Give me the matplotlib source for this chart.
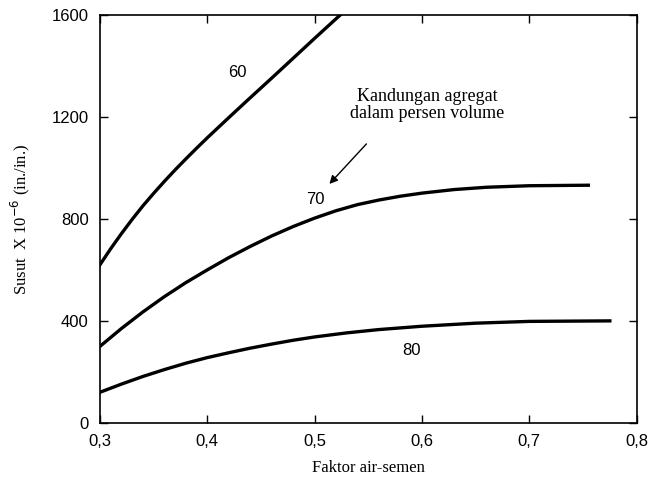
import matplotlib.pyplot as plt
from matplotlib.ticker import FuncFormatter

# ── Data ───────────────────────────────────────────────────────────────────────
x60 = [0.30, 0.31, 0.32, 0.33, 0.34, 0.35, 0.36, 0.37, 0.38, 0.39, 0.40,
       0.42, 0.44, 0.46, 0.48, 0.50, 0.52, 0.524]
y60 = [620, 683, 742, 798, 851, 900, 947, 992, 1035, 1077, 1118,
       1197, 1275, 1352, 1430, 1508, 1585, 1600]

x70 = [0.30, 0.32, 0.34, 0.36, 0.38, 0.40, 0.42, 0.44, 0.46, 0.48, 0.50,
       0.52, 0.54, 0.56, 0.58, 0.60, 0.63, 0.66, 0.70, 0.755]
y70 = [300, 370, 435, 495, 550, 600, 648, 692, 733, 770, 803,
       832, 856, 874, 889, 901, 915, 924, 930, 932]

x80 = [0.30, 0.32, 0.34, 0.36, 0.38, 0.40, 0.42, 0.44, 0.46, 0.48, 0.50,
       0.53, 0.56, 0.60, 0.65, 0.70, 0.775]
y80 = [120, 152, 182, 209, 234, 256, 275, 293, 309, 324, 337,
       353, 366, 379, 391, 398, 400]

xticks = [0.3, 0.4, 0.5, 0.6, 0.7, 0.8]
yticks = [0, 400, 800, 1200, 1600]

SERIF = "Liberation Serif"
SANS  = "Liberation Sans"

fig = plt.figure(figsize=(6.49, 4.80), dpi=100)
ax = fig.add_axes([0.154, 0.119, 0.827, 0.850])

for xs, ys in [(x60, y60), (x70, y70), (x80, y80)]:
    ax.plot(xs, ys, color="black", lw=2.4, solid_joinstyle="round")

ax.set_xlim(0.3, 0.8)
ax.set_ylim(0, 1600)
ax.set_xticks(xticks)
ax.set_yticks(yticks)
ax.xaxis.set_major_formatter(FuncFormatter(lambda v, p: f"{v:.1f}".replace(".", ",")))
ax.tick_params(direction="in", length=6, width=1, top=True, right=True,
               labelsize=12, pad=8)
for lbl in ax.get_xticklabels() + ax.get_yticklabels():
    lbl.set_family(SANS)
for s in ax.spines.values():
    s.set_linewidth(1.2)

# curve labels
ax.text(0.428, 1373, "60", fontsize=12, family=SANS, ha="center", va="center")
ax.text(0.501, 875, "70", fontsize=12, family=SANS, ha="center", va="center")
ax.text(0.590, 282, "80", fontsize=12, family=SANS, ha="center", va="center")

# annotation: aggregate content
ax.text(0.605, 1247, "Kandungan agregat\ndalam persen volume", fontsize=13,
        family=SERIF, ha="center", va="center", linespacing=1.05)
ax.annotate("", xy=(0.512, 929), xytext=(0.550, 1102),
            arrowprops=dict(arrowstyle="-|>", color="black", lw=1.0,
                            mutation_scale=12))

ax.set_xlabel("Faktor air-semen", fontsize=12, family=SERIF, labelpad=8)
ax.set_ylabel("Susut  X 10$^{-6}$ (in./in.)", fontsize=12, family=SERIF,
              labelpad=14)

fig.savefig("out.png", dpi=100)
